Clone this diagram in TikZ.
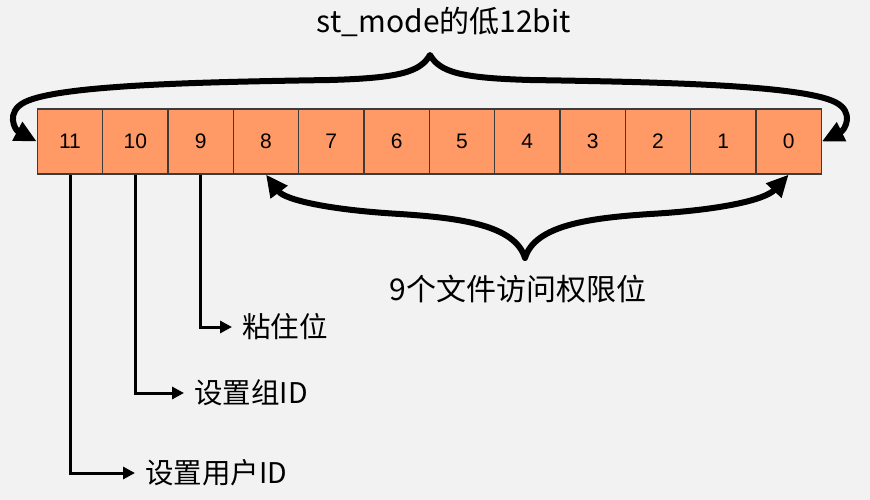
\documentclass[tikz,border=0pt]{standalone}
\usepackage{fontspec}
\setmainfont{Liberation Sans}
\newfontfamily\cjk{Noto Sans CJK SC}
\usetikzlibrary{arrows.meta}
\definecolor{bg}{RGB}{242,242,242}
\definecolor{cellfill}{RGB}{255,153,102}
\definecolor{cellline}{RGB}{60,60,60}
\begin{document}
\begin{tikzpicture}[x=1pt,y=-1pt,
  cell/.style={draw=cellline, line width=1.2pt, fill=cellfill, minimum width=65.33pt, minimum height=65pt, inner sep=0pt, font=\fontsize{21}{21}\selectfont},
  brace/.style={line width=6pt, line join=round, {Triangle[length=22pt,width=20pt]}-{Triangle[length=22pt,width=20pt]}},
  lead/.style={line width=3pt, -{Triangle[length=12pt,width=12pt]}},
  lbl/.style={font=\cjk\fontsize{28.5}{28.5}\selectfont, anchor=west, inner ysep=0pt, inner xsep=10pt},
  big/.style={font=\cjk\fontsize{30}{30}\selectfont, inner sep=0pt}
  ]
\fill[bg] (0,0) rectangle (870,500);
\useasboundingbox (0,0) rectangle (870,500);
\foreach \i in {0,...,11} {
  \node[cell] (c\i) at ({37.33+65.33*(11-\i)+32.67},141.5) {\i};
}
\coordinate (tp) at (430,55);
\coordinate (bp) at (525,258);
\draw[brace] (c11.west) .. controls (15,130) and (5,112) .. (25,102)
  .. controls (60,85) and (200,82) .. (330,80)
  .. controls (400,78) and (420,72) .. (tp)
  .. controls (440,72) and (460,78) .. (530,80)
  .. controls (660,82) and (800,85) .. (835,102)
  .. controls (855,112) and (845,130) .. (c0.east);
\draw[brace] (c8.south) .. controls (285,200) and (330,210) .. (400,214)
  .. controls (460,218) and (515,225) .. (bp)
  .. controls (535,225) and (590,218) .. (650,214)
  .. controls (720,210) and (765,200) .. (c0.south);
\node[big] (title) at (444,22) {st\_mode的低12bit};
\node[big] (perm) at (518,289) {9个文件访问权限位};
\node[lbl] (l9) at (232,327) {粘住位};
\node[lbl] (l10) at (184,393) {设置组ID};
\node[lbl] (l11) at (135,473) {设置用户ID};
\draw[lead] (c9.south) |- (l9.west);
\draw[lead] (c10.south) |- (l10.west);
\draw[lead] (c11.south) |- (l11.west);
\end{tikzpicture}
\end{document}
